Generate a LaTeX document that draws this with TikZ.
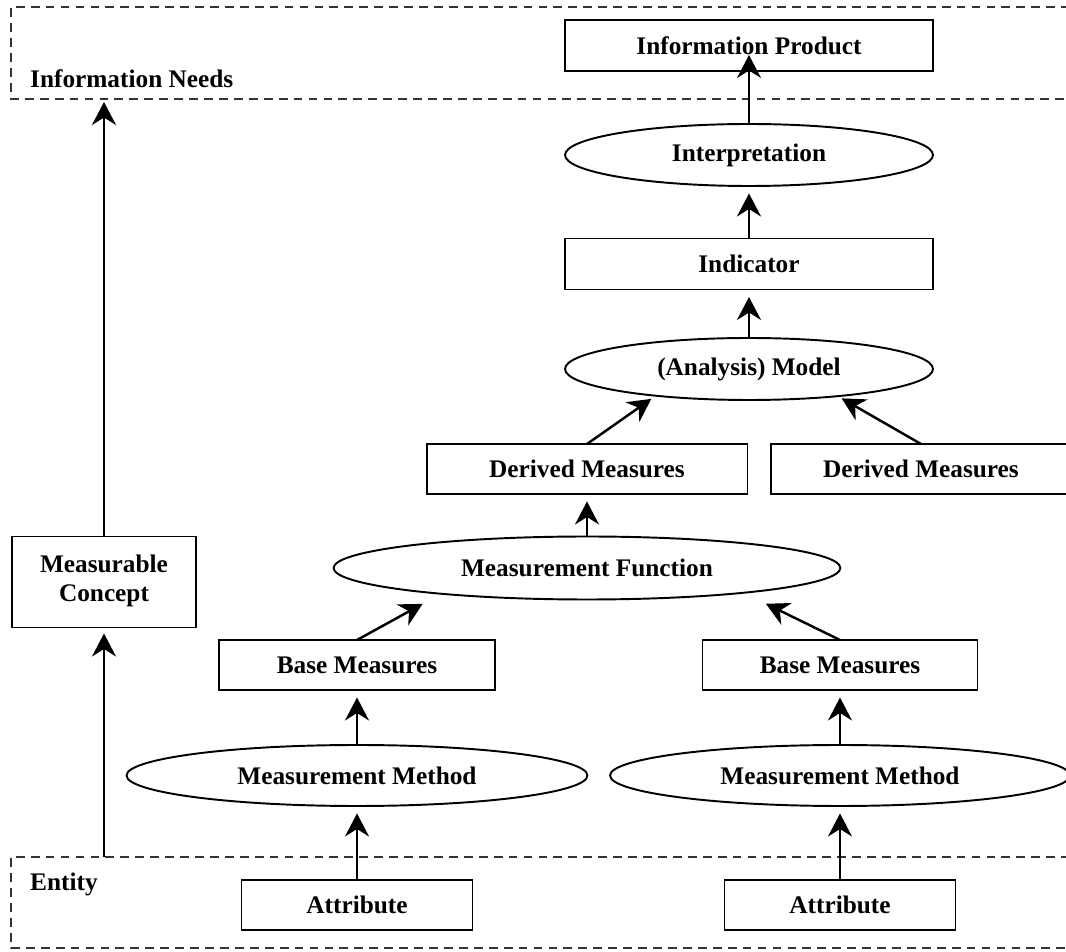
\documentclass[tikz,border=0pt]{standalone}
\usepackage{fontspec}
\setmainfont{Liberation Serif}
\usepackage{tikz}
\usetikzlibrary{shapes,arrows.meta,positioning,calc}

\begin{document}
\begin{tikzpicture}[x=0.02cm, y=-0.02cm,
    every node/.style={font=\fontsize{14.4}{16.5}\selectfont\bfseries},
    box/.style={draw, line width=1.1pt, inner sep=0pt, outer sep=0pt, minimum height=1.02cm},
    oval/.style={draw, ellipse, line width=1.1pt, inner sep=0pt, outer sep=0pt, minimum height=1.24cm},
    arr/.style={line width=1.4pt, -{Stealth[length=0.46cm, width=0.48cm, inset=0.15cm]}, shorten >=0.15cm},
    zone/.style={black!80, line width=1.4pt, dash pattern=on 5pt off 3.5pt}]
    \clip (0,0) rectangle (1066,952);

    % Zones
    \draw[zone] (1070,7) -- (11,7) -- (11,99) -- (1070,99);
    \draw[zone] (1070,857) -- (11,857) -- (11,948) -- (1070,948);
    \node[anchor=west] (needs) at (24,79) {Information Needs};
    \node[anchor=west] (entity) at (24,884) {Entity};
    \coordinate (needsbot) at (104,99);
    \coordinate (entitytop) at (104,857);

    % Top of the chain
    \node[box, minimum width=7.36cm] (ip) at (749,45.5) {Information Product};
    \node[oval, minimum width=7.36cm] (interp) at (749,155) {Interpretation};
    \node[box, minimum width=7.36cm] (ind) at (749,264) {Indicator};
    \node[oval, minimum width=7.36cm] (model) at (749,369) {(Analysis) Model};
    \node[box, minimum width=6.42cm, minimum height=1.0cm] (dml) at (587,469) {Derived Measures};
    \node[box, minimum width=6.0cm, minimum height=1.0cm] (dmr) at (921,469) {Derived Measures};
    \node[oval, minimum width=10.14cm, minimum height=1.26cm] (mf) at (587,568) {Measurement Function};

    % Bottom of the chain
    \node[box, minimum width=5.52cm, minimum height=1.0cm] (bml) at (357,665) {Base Measures};
    \node[box, minimum width=5.5cm, minimum height=1.0cm] (bmr) at (840,665) {Base Measures};
    \node[oval, minimum width=9.22cm, minimum height=1.22cm] (mml) at (357,775.5) {Measurement Method};
    \node[oval, minimum width=9.2cm, minimum height=1.22cm] (mmr) at (840,775.5) {Measurement Method};
    \node[box, minimum width=4.62cm, minimum height=1.0cm] (atl) at (357,905) {Attribute};
    \node[box, minimum width=4.62cm, minimum height=1.0cm] (atr) at (840,905) {Attribute};

    % Left side
    \node[box, minimum width=3.68cm, minimum height=1.82cm, align=center, text depth=4pt] (mc) at (104,582) {Measurable\\Concept};

    % Arrows
    \draw[arr] (atl) -- (mml);
    \draw[arr] (atr) -- (mmr);
    \draw[arr] (mml) -- (bml);
    \draw[arr] (mmr) -- (bmr);
    \draw[arr, shorten >=0.42cm] (bml.north) -- (mf.190.6);
    \draw[arr, shorten >=0.5cm] (bmr.north) -- (mf.351.5);
    \draw[arr] (mf) -- (dml);
    \draw[arr, shorten >=0.11cm] (dml.north) -- (model.196.8);
    \draw[arr, shorten >=0.09cm] (dmr.north) -- (model.343.2);
    \draw[arr] (model) -- (ind);
    \draw[arr] (ind) -- (interp);
    \draw[arr, shorten >=-0.32cm] (interp) -- (ip);
    \draw[arr, shorten >=0.12cm] (entitytop) -- (mc);
    \draw[arr, shorten >=0.06cm] (mc) -- (needsbot);
\end{tikzpicture}
\end{document}
